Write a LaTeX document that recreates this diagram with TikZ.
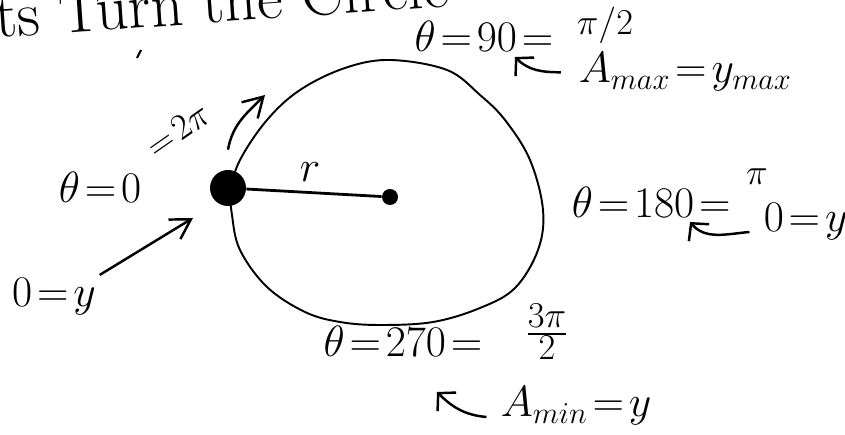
\documentclass[tikz,border=0pt]{standalone}
\usepackage{amsmath}
\usepackage{tikz}
\usetikzlibrary{arrows.meta,calc}
\thickmuskip=2mu plus 2mu

\begin{document}
\begin{tikzpicture}[
  x=0.02cm, y=0.02cm,
  lbl/.style={font=\fontsize{24}{28}\selectfont, inner sep=2pt},
  small/.style={font=\fontsize{22}{26}\selectfont, inner sep=1pt},
  dot/.style={circle, fill, inner sep=0pt},
  ptr/.style={-{Straight Barb[length=7pt, width=15pt, line width=1.4pt]}, line width=1.4pt},
  arrow/.style={-{Straight Barb[length=11pt, width=13pt, line width=1.4pt]}, line width=1.4pt}
]
\useasboundingbox (0,0) rectangle (845,435);
% heading, cut by the top edge
\node[font=\fontsize{36}{40}\selectfont, anchor=base west, rotate=4, inner sep=0pt] (title) at (-4,397) {ts Turn the Circle};
\draw[line width=1.2pt] (141,385) -- (137,377);
% the circle
\draw[line width=1.1pt] plot[smooth cycle, tension=0.6] coordinates {
  (231,245) (240,275) (267,315) (300,345) (345,367) (390,375) (447,365)
  (480,340) (505,315) (530,275) (543,225) (538,185) (515,147) (480,127)
  (433,113) (380,110) (340,113) (305,123) (267,148) (240,185) (232,220)};
\node[dot, minimum size=0.72cm] (start) at (228,247) {};
\node[dot, minimum size=0.32cm] (centre) at (390,238) {};
\draw[line width=1.6pt] (start) -- (centre);
\node[font=\fontsize{34}{38}\selectfont, anchor=base] (r) at (310,253) {$r$};
% theta = 0
\node[lbl, anchor=base] (th0) at (100,232) {$\theta=0$};
\node[small, rotate=35] (twopi) at (178,305) {$=2\pi$};
\coordinate (turn) at (265,340);
\draw[arrow] ([yshift=0.4cm]start.north) to[out=80, in=-135] (turn);
\node[lbl, anchor=base] (zeroL) at (54,128) {$0=y$};
\coordinate (hit) at (193,217);
\draw[arrow] (zeroL.north east) -- (hit);
% theta = 90
\node[lbl, anchor=base] (th90) at (484,383) {$\theta=90=$};
\node[small, anchor=base] (pihalf) at (605,400) {$\pi/2$};
\node[lbl, anchor=base west] (amax) at (575,352) {$A_{max}=y_{max}$};
\coordinate (tip90) at (515,378);
\draw[ptr] ([xshift=-8pt]amax.west) to[out=180, in=-45] (tip90);
% theta = 180
\node[lbl, anchor=base west] (th180) at (568,217) {$\theta=180=$};
\node[small, anchor=base] (pi) at (757,250) {$\pi$};
\node[lbl, anchor=base west] (zeroR) at (760,203) {$0=y$};
\coordinate (tip180) at (690,213);
\draw[ptr] ([xshift=-6pt]zeroR.base west) to[out=185, in=-50] (tip180);
% theta = 270
\node[lbl, anchor=base] (th270) at (403,78) {$\theta=270=$};
\node[font=\fontsize{28}{32}\selectfont, inner sep=1pt] (threepi) at (547,103) {$\frac{3\pi}{2}$};
\node[lbl, anchor=base west] (amin) at (497,18) {$A_{min}=y$};
\coordinate (tip270) at (437,43);
\draw[ptr] ([xshift=-6pt]amin.base west) to[out=175, in=-45] (tip270);
\end{tikzpicture}
\end{document}
